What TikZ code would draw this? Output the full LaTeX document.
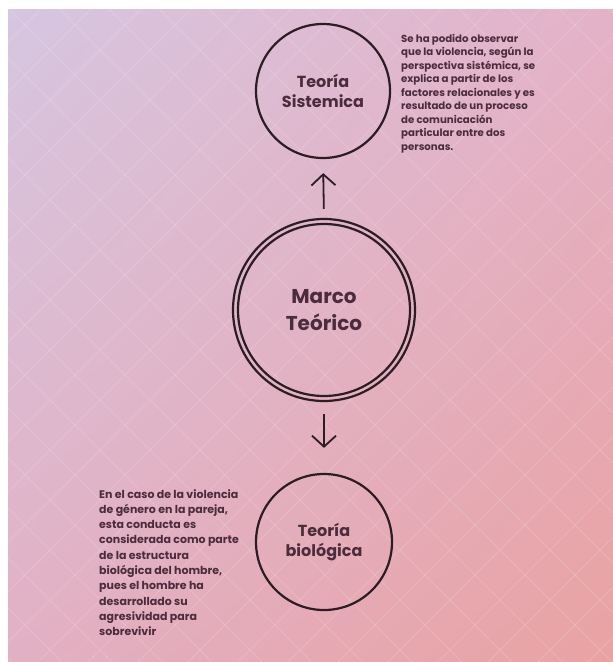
\documentclass[tikz,border=0pt]{standalone}
\usepackage{fontspec}
\setmainfont{Poppins}
\usetikzlibrary{arrows.meta,shadings}

\definecolor{ink}{HTML}{2B1D24}
\definecolor{plum}{HTML}{4B2C3C}
\definecolor{lilac}{RGB}{214,198,224}
\definecolor{rose}{RGB}{228,178,200}
\definecolor{pinkish}{RGB}{226,176,196}
\definecolor{salmon}{RGB}{233,162,162}

\tikzset{
  theory/.style={circle, draw=ink, line width=2.2pt, text=plum, align=center,
    font=\fontsize{16}{20}\selectfont\bfseries},
  note/.style={anchor=north west, inner sep=0pt, align=left, text=plum},
  arrowline/.style={ink, line width=1.8pt, -{Straight Barb[length=11pt,width=24pt]}}
}

\begin{document}
\begin{tikzpicture}[x=1pt, y=-1pt]
    % Page size and gradient background
    \useasboundingbox (0,0) rectangle (613,662);
    \shade[upper left=lilac, upper right=rose, lower left=pinkish, lower right=salmon]
        (8,9) rectangle (613,662);

    % Faint diamond lattice
    \begin{scope}
        \clip (8,9) rectangle (613,662);
        \foreach \c in {-700,-650,...,1400} {
            \draw[white, opacity=0.15, line width=1pt] (\c,0) -- ++(700,700);
            \draw[white, opacity=0.15, line width=1pt] (\c,0) -- ++(-700,700);
        }
    \end{scope}

    % Circles
    \node[theory, minimum size=134pt] (sistemica) at (323,91) {Teoría\\Sistemica};
    \node[theory, minimum size=182pt, font=\fontsize{20}{27}\selectfont\bfseries] (marco) at (324,310) {Marco\\Teórico};
    \draw[ink, line width=2.2pt] (marco.center) circle[radius=86pt];
    \node[theory, minimum size=136pt] (biologica) at (324,542) {Teoría\\biológica};

    % Arrows
    \draw[arrowline, shorten <=9pt, shorten >=14pt] (marco.north) -- (sistemica.south);
    \draw[arrowline, shorten <=12pt, shorten >=25pt] (marco.south) -- (biologica.north);

    % Notes
    \node[note, font=\fontsize{10.2}{13.5}\selectfont\bfseries] (notesis) at (401,34)
        {Se ha podido observar\\que la violencia, según la\\perspectiva sistémica, se\\explica a partir de los\\factores relacionales y es\\resultado de un proceso\\de comunicación\\particular entre dos\\personas.};
    \node[note, font=\fontsize{11}{15.3}\selectfont\bfseries] (notebio) at (99,489)
        {En el caso de la violencia\\de género en la pareja,\\esta conducta es\\considerada como parte\\de la estructura\\biológica del hombre,\\pues el hombre ha\\desarrollado su\\agresividad para\\sobrevivir};
\end{tikzpicture}
\end{document}
